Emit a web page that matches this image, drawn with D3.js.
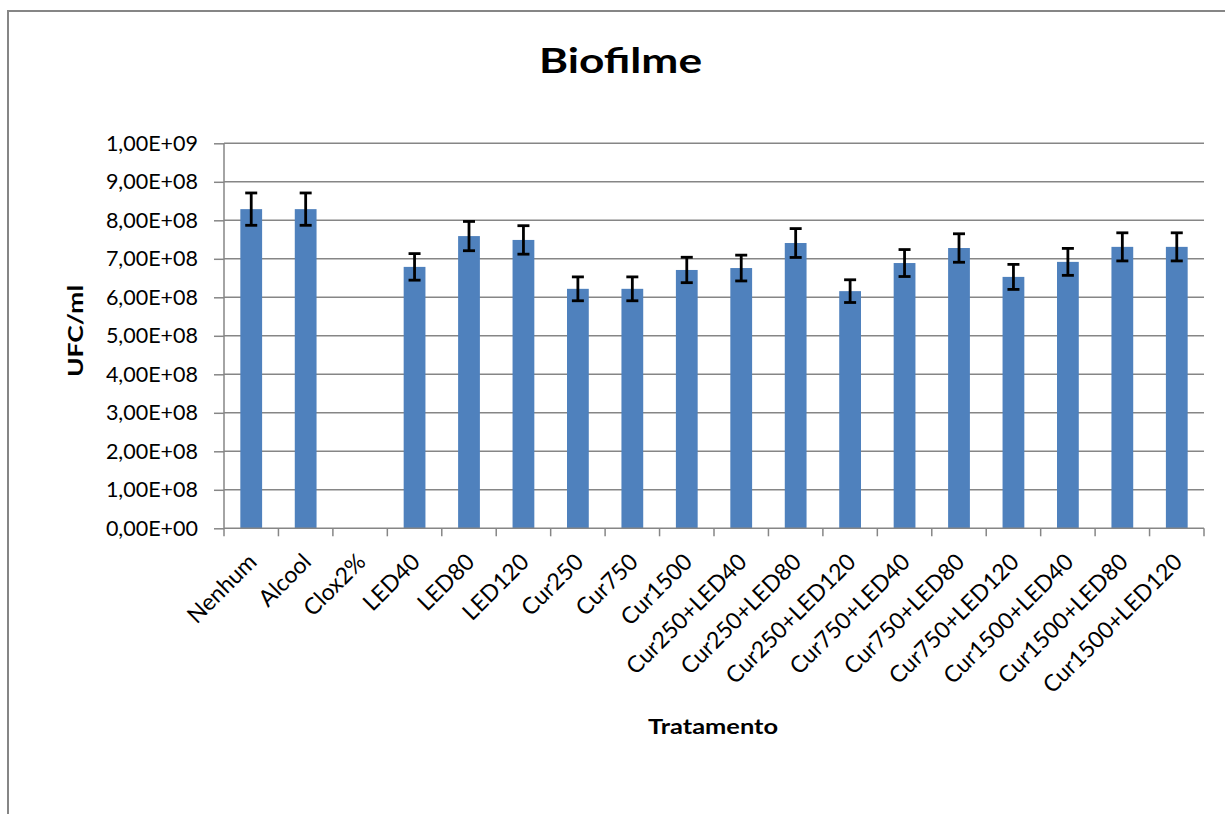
<!DOCTYPE html>
<html>
<head>
<meta charset="utf-8">
<script src="https://cdn.jsdelivr.net/npm/d3@7"></script>
<style>
  body { margin: 0; background: #fff; }
  svg { display: block; font-family: Lato, "Open Sans", sans-serif; }
</style>
</head>
<body>
<svg id="chart" width="1225" height="814"></svg>
<script>
// categorias (tratamentos)
var categories = ['Nenhum', 'Alcool', 'Clox2%', 'LED40', 'LED80', 'LED120', 'Cur250', 'Cur750', 'Cur1500',
    'Cur250+LED40', 'Cur250+LED80', 'Cur250+LED120', 'Cur750+LED40', 'Cur750+LED80', 'Cur750+LED120',
    'Cur1500+LED40', 'Cur1500+LED80', 'Cur1500+LED120'];

// UFC/ml medias
var values = [8.29e8, 8.29e8, 0, 6.79e8, 7.59e8, 7.49e8, 6.22e8, 6.22e8, 6.71e8,
    6.76e8, 7.41e8, 6.16e8, 6.89e8, 7.28e8, 6.53e8,
    6.92e8, 7.31e8, 7.31e8];

// desvio (barras de erro)
var errors = [4.2e7, 4.2e7, 0, 3.45e7, 3.8e7, 3.7e7, 3.1e7, 3.1e7, 3.3e7,
    3.35e7, 3.75e7, 2.95e7, 3.5e7, 3.7e7, 3.25e7,
    3.5e7, 3.65e7, 3.65e7];

var yTicks = [0, 1e8, 2e8, 3e8, 4e8, 5e8, 6e8, 7e8, 8e8, 9e8, 1e9];

(function () {
    'use strict';

    function sciLabel(d) {
        if (d === 0) return '0,00E+00';
        var e = Math.floor(Math.log10(d) + 1e-9);
        var m = d / Math.pow(10, e);
        return m.toFixed(2).replace('.', ',') + 'E+' + (e < 10 ? '0' + e : e);
    }

    var svg = d3.select('#chart');
    var plotLeft = 224, plotRight = 1204, plotTop = 143.3, plotBottom = 528.3;
    var grey = '#868686';

    // moldura externa
    svg.append('path')
        .attr('d', 'M8,814 L8,11 L1225,11')
        .attr('fill', 'none')
        .attr('stroke', grey)
        .attr('stroke-width', 2);

    var x = d3.scaleBand()
        .domain(categories)
        .range([plotLeft, plotRight])
        .paddingInner(0.6)
        .paddingOuter(0.3);

    var xBand = d3.scaleBand()
        .domain(categories)
        .range([plotLeft, plotRight]);

    var y = d3.scaleLinear()
        .domain([0, 1e9])
        .range([plotBottom, plotTop]);

    // grade
    svg.append('g')
        .selectAll('line')
        .data(yTicks.slice(1))
        .enter().append('line')
        .attr('x1', plotLeft)
        .attr('x2', plotRight)
        .attr('y1', function (d) { return y(d); })
        .attr('y2', function (d) { return y(d); })
        .attr('stroke', grey)
        .attr('stroke-width', 1.5);

    // eixo y
    var yAxis = svg.append('g')
        .attr('transform', 'translate(' + plotLeft + ',0)')
        .call(d3.axisLeft(y).tickValues(yTicks).tickFormat(sciLabel).tickSize(10).tickPadding(16));
    yAxis.select('.domain').attr('stroke', grey).attr('stroke-width', 1.5)
        .attr('d', 'M0,' + plotTop + 'V' + plotBottom);
    yAxis.selectAll('.tick line').attr('stroke', grey).attr('stroke-width', 1.5);
    yAxis.selectAll('.tick text')
        .attr('font-size', 21.5)
        .attr('font-family', 'Lato, sans-serif')
        .attr('fill', '#000');

    // barras
    svg.append('g')
        .selectAll('rect')
        .data(values)
        .enter().append('rect')
        .attr('x', function (d, i) { return x(categories[i]); })
        .attr('width', x.bandwidth())
        .attr('y', function (d) { return y(d); })
        .attr('height', function (d) { return y(0) - y(d); })
        .attr('fill', '#4F81BD');

    // barras de erro
    var err = svg.append('g')
        .selectAll('g')
        .data(values.map(function (v, i) { return { v: v, e: errors[i], c: categories[i] }; })
            .filter(function (d) { return d.v > 0; }))
        .enter().append('g')
        .attr('stroke', '#000')
        .attr('stroke-width', 2.8);

    function cx(d) { return x(d.c) + x.bandwidth() / 2; }

    err.append('line')
        .attr('x1', cx)
        .attr('x2', cx)
        .attr('y1', function (d) { return y(d.v + d.e); })
        .attr('y2', function (d) { return y(d.v - d.e); });

    err.append('line')
        .attr('x1', function (d) { return cx(d) - 6; })
        .attr('x2', function (d) { return cx(d) + 6; })
        .attr('y1', function (d) { return y(d.v + d.e); })
        .attr('y2', function (d) { return y(d.v + d.e); });

    err.append('line')
        .attr('x1', function (d) { return cx(d) - 6; })
        .attr('x2', function (d) { return cx(d) + 6; })
        .attr('y1', function (d) { return y(d.v - d.e); })
        .attr('y2', function (d) { return y(d.v - d.e); });

    // eixo x
    var xAxis = svg.append('g')
        .attr('transform', 'translate(0,' + plotBottom + ')');
    xAxis.append('line')
        .attr('x1', plotLeft)
        .attr('x2', plotRight)
        .attr('stroke', grey)
        .attr('stroke-width', 1.5);
    xAxis.selectAll('.sep')
        .data(categories.concat(['__end']))
        .enter().append('line')
        .attr('class', 'sep')
        .attr('x1', function (d, i) { return i < categories.length ? xBand(d) : plotRight; })
        .attr('x2', function (d, i) { return i < categories.length ? xBand(d) : plotRight; })
        .attr('y1', 0)
        .attr('y2', 8)
        .attr('stroke', grey)
        .attr('stroke-width', 1.5);

    xAxis.selectAll('.lbl')
        .data(categories)
        .enter().append('text')
        .attr('class', 'lbl')
        .attr('text-anchor', 'end')
        .attr('font-size', 23)
        .attr('fill', '#000')
        .attr('transform', function (d) {
            return 'translate(' + (xBand(d) + xBand.bandwidth() / 2 + 7) + ',35)rotate(-45)';
        })
        .text(function (d) { return d; });

    // titulos
    svg.append('text')
        .attr('x', 620.5)
        .attr('y', 73)
        .attr('text-anchor', 'middle')
        .attr('font-size', 35)
        .attr('font-weight', 'bold')
        .attr('textLength', 163)
        .attr('lengthAdjust', 'spacingAndGlyphs')
        .text('Biofilme');

    svg.append('text')
        .attr('text-anchor', 'middle')
        .attr('font-size', 21)
        .attr('font-weight', 'bold')
        .attr('textLength', 92)
        .attr('lengthAdjust', 'spacingAndGlyphs')
        .attr('transform', 'translate(83,331)rotate(-90)')
        .text('UFC/ml');

    svg.append('text')
        .attr('x', 713)
        .attr('y', 734)
        .attr('text-anchor', 'middle')
        .attr('font-size', 21)
        .attr('font-weight', 'bold')
        .attr('textLength', 130)
        .attr('lengthAdjust', 'spacingAndGlyphs')
        .text('Tratamento');
}());
</script>
</body>
</html>
